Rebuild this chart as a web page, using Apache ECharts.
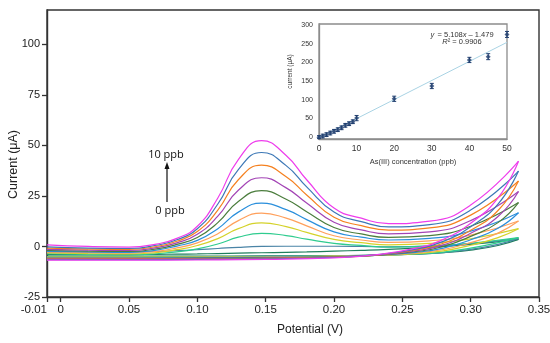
<!DOCTYPE html>
<html>
<head>
<meta charset="utf-8">
<script src="https://cdn.jsdelivr.net/npm/echarts@6/dist/echarts.min.js"></script>
<style>html,body{margin:0;padding:0;background:#fff;}#c{width:550px;height:343px;}</style>
</head>
<body>
<div id="c"></div>
<script>
// ---------- DATA ----------
const concentrations = ['0 ppb','1 ppb','2 ppb','3 ppb','4 ppb','5 ppb','6 ppb','7 ppb','8 ppb','9 ppb','10 ppb'];
// potentials (V) for the lower (forward) branch
const lowerPotentials = [-0.01, 0.05, 0.10, 0.15, 0.20, 0.23, 0.26, 0.28, 0.30, 0.32, 0.335];
// potentials (V) for the upper (stripping) branch
const upperPotentials = [-0.01, 0.02, 0.05, 0.07, 0.085, 0.10, 0.115, 0.13, 0.147, 0.165, 0.18, 0.20, 0.22, 0.24, 0.27, 0.30, 0.335];

const lowerCurrent = [
  [-4.8, -4.8, -4.8, -4.7, -4.5, -4.3, -3.8, -3.1, -1.8, 0.5, 3.5],
  [-5.0, -5.0, -5.0, -4.9, -4.7, -4.4, -3.8, -3.0, -1.4, 1.0, 4.0],
  [-5.1, -5.1, -5.1, -5.0, -4.7, -4.4, -3.7, -2.8, -0.8, 1.9, 4.4],
  [-5.3, -5.3, -5.3, -5.2, -4.8, -4.4, -3.5, -2.2, 0.6, 4.4, 8.8],
  [-5.5, -5.5, -5.4, -5.3, -4.9, -4.4, -3.2, -1.5, 1.9, 6.6, 12.6],
  [-5.7, -5.7, -5.6, -5.4, -5.0, -4.4, -2.9, -0.8, 3.3, 9.0, 16.7],
  [-5.9, -5.9, -5.8, -5.6, -5.1, -4.4, -2.5, 0.0, 5.0, 11.8, 21.7],
  [-6.1, -6.1, -6.0, -5.7, -5.2, -4.3, -2.1, 0.8, 6.5, 14.8, 27.2],
  [-6.3, -6.3, -6.2, -5.9, -5.3, -4.3, -1.7, 1.6, 8.0, 17.8, 32.4],
  [-6.5, -6.5, -6.4, -6.1, -5.4, -4.2, -1.3, 2.5, 9.8, 21.0, 37.3],
  [-6.8, -6.8, -6.7, -6.4, -5.6, -4.2, -0.8, 3.5, 11.5, 24.0, 42.2]
];
const upperCurrent = [
  [-4.0, -4.0, -4.0, -3.9, -3.8, -3.7, -3.5, -3.3, -3.1, -2.9, -2.7, -2.3, -1.9, -1.4, -0.4, 1.0, 3.5],
  [-3.0, -3.0, -2.8, -2.5, -2.1, -1.6, -1.0, -0.4, 0.0, 0.1, 0.1, 0.1, 0.0, -0.2, 0.2, 1.4, 4.0],
  [-3.6, -3.9, -4.1, -3.6, -2.7, -1.2, 1.2, 4.6, 6.5, 5.4, 3.6, 1.5, 0.5, -0.3, 0.2, 1.6, 4.4],
  [-3.2, -3.5, -3.7, -3.0, -1.6, 0.5, 3.9, 8.8, 11.7, 9.8, 7.0, 3.5, 1.9, 0.8, 1.5, 3.8, 8.8],
  [-2.8, -3.1, -3.3, -2.4, -0.7, 1.8, 6.3, 12.8, 16.5, 14.0, 10.2, 5.3, 3.2, 2.0, 2.8, 5.6, 12.6],
  [-2.4, -2.7, -2.9, -1.8, 0.2, 3.0, 8.8, 17.0, 21.4, 18.2, 13.3, 7.2, 4.6, 3.2, 4.0, 7.6, 16.7],
  [-2.0, -2.3, -2.5, -1.2, 1.0, 4.4, 11.8, 22.3, 27.6, 23.4, 17.2, 9.4, 6.2, 4.5, 5.4, 10.0, 21.7],
  [-1.4, -1.8, -2.0, -0.6, 1.8, 6.0, 15.0, 27.8, 34.0, 29.0, 21.5, 12.0, 8.2, 6.2, 7.2, 12.8, 27.2],
  [-0.8, -1.3, -1.5, 0.0, 2.6, 7.4, 18.0, 33.0, 40.2, 34.5, 25.5, 14.5, 10.3, 8.1, 9.2, 15.5, 32.4],
  [-0.2, -0.8, -1.0, 0.6, 3.3, 8.8, 21.0, 38.0, 46.5, 40.0, 29.5, 17.0, 12.3, 9.7, 10.8, 18.0, 37.3],
  [0.8, 0.0, -0.3, 1.2, 4.0, 10.0, 24.0, 43.0, 52.4, 45.0, 33.0, 19.0, 14.0, 11.3, 12.5, 20.5, 42.2]
];

const xTickValues = [-0.01, 0, 0.05, 0.10, 0.15, 0.20, 0.25, 0.30, 0.35];
const yTickValues = [-25, 0, 25, 50, 75, 100];

// inset calibration data
const insetConc = [0, 1, 2, 3, 4, 5, 6, 7, 8, 9, 10, 20, 30, 40, 45, 50];
const insetCurrent = [0, 3, 6.7, 11, 15.6, 20, 25, 31.6, 36, 41.3, 51, 102.7, 137, 206.7, 215.5, 275];
const insetError = [4, 5, 5, 5, 5, 5, 5, 5, 5, 5, 7, 7, 7, 7, 8, 8];
const trendX = [0, 50];
const trendY = [-1.479, 253.921];
const insetYTicks = [0, 50, 100, 150, 200, 250, 300];

// ---------- STYLE ----------
const palette = ['#1e7f5c', '#4a84a6', '#2fcc8f', '#d4d22a', '#ffa05c', '#2a8fdc', '#4b7d3d', '#a344b5', '#f5801f', '#3d78b6', '#ee3cec'];

const chart = echarts.init(document.getElementById('c'), null, {renderer: 'canvas'});
const series = [];
concentrations.forEach((name, i) => {
  series.push({
    name: name, type: 'line', xAxisIndex: 0, yAxisIndex: 0,
    data: lowerPotentials.map((p, j) => [p, lowerCurrent[i][j]]),
    smooth: 0.5, showSymbol: false, symbol: 'none',
    lineStyle: {color: palette[i], width: 1.2}, silent: true
  });
  series.push({
    name: name, type: 'line', xAxisIndex: 0, yAxisIndex: 0,
    data: upperPotentials.map((p, j) => [p, upperCurrent[i][j]]),
    smooth: 0.5, showSymbol: false, symbol: 'none',
    lineStyle: {color: palette[i], width: 1.2}, silent: true
  });
});

// inset
series.push({
  type: 'line', xAxisIndex: 1, yAxisIndex: 1,
  data: trendX.map((x, i) => [x, trendY[i]]),
  showSymbol: false, symbol: 'none',
  lineStyle: {color: '#a9d3e4', width: 1}, silent: true, z: 6
});
series.push({
  type: 'custom', xAxisIndex: 1, yAxisIndex: 1,
  data: insetConc.map((x, i) => [x, insetCurrent[i], insetError[i]]),
  renderItem: function (params, api) {
    const x = api.value(0), y = api.value(1), e = api.value(2);
    const t = api.coord([x, y + e]);
    const b = api.coord([x, y - e]);
    const st = {stroke: '#1f3d6e', lineWidth: 1};
    return {type: 'group', children: [
      {type: 'line', shape: {x1: t[0], y1: t[1], x2: b[0], y2: b[1]}, style: st},
      {type: 'line', shape: {x1: t[0] - 2, y1: t[1], x2: t[0] + 2, y2: t[1]}, style: st},
      {type: 'line', shape: {x1: b[0] - 2, y1: b[1], x2: b[0] + 2, y2: b[1]}, style: st}
    ]};
  },
  clip: false, silent: true, z: 7
});
series.push({
  type: 'scatter', xAxisIndex: 1, yAxisIndex: 1,
  data: insetConc.map((x, i) => [x, insetCurrent[i]]),
  symbol: 'diamond', symbolSize: 5,
  itemStyle: {color: '#1f3d6e'}, silent: true, z: 8
});

const font = 'Liberation Sans, Arial, sans-serif';
const option = {
  animation: false,
  backgroundColor: '#ffffff',
  grid: [
    {left: 47, right: 11, top: 10, bottom: 46, show: true, borderColor: '#333', borderWidth: 1.4,
      backgroundColor: 'transparent', containLabel: false, outerBoundsMode: 'none'},
    {left: 319, right: 43, top: 24, bottom: 204, show: true, borderColor: '#8c8c8c', borderWidth: 1.3,
      backgroundColor: 'transparent', containLabel: false, outerBoundsMode: 'none'}
  ],
  xAxis: [
    {
      type: 'value', gridIndex: 0, min: -0.01, max: 0.35,
      name: 'Potential (V)', nameLocation: 'middle', nameGap: 27, nameMoveOverlap: false,
      nameTextStyle: {fontFamily: font, fontSize: 12, color: '#222', padding: [0, 0, 0, 34]},
      axisLine: {show: true, onZero: false, lineStyle: {color: '#333', width: 1.4}},
      axisTick: {show: true, length: 5, customValues: xTickValues, lineStyle: {color: '#333', width: 1.3}},
      axisLabel: {customValues: xTickValues, showMinLabel: true, showMaxLabel: true, hideOverlap: false,
        alignMinLabel: 'right',
        fontFamily: font, fontSize: 11.5, color: '#222', margin: 7,
        formatter: v => (Math.abs(v) < 1e-9 ? '0' : v.toFixed(2))},
      splitLine: {show: false}
    },
    {
      type: 'value', gridIndex: 1, min: 0, max: 50, interval: 10,
      name: 'As(III) concentration (ppb)', nameLocation: 'middle', nameGap: 19, nameMoveOverlap: false,
      nameTextStyle: {fontFamily: font, fontSize: 7.5, color: '#333'},
      axisLine: {show: true, onZero: false, lineStyle: {color: '#8c8c8c', width: 1.3}},
      axisTick: {show: false},
      axisLabel: {fontFamily: font, fontSize: 8.5, color: '#333', margin: 5, showMinLabel: true},
      splitLine: {show: false}
    }
  ],
  yAxis: [
    {
      type: 'value', gridIndex: 0, min: -25, max: 117,
      name: 'Current (μA)', nameLocation: 'middle', nameGap: 27, nameMoveOverlap: false,
      nameTextStyle: {fontFamily: font, fontSize: 12.5, color: '#222', padding: [0, 22, 0, 0]},
      axisLine: {show: true, onZero: false, lineStyle: {color: '#333', width: 1.4}},
      axisTick: {show: true, length: 5, customValues: yTickValues, lineStyle: {color: '#333', width: 1.3}},
      axisLabel: {customValues: yTickValues, showMinLabel: true, fontFamily: font, fontSize: 11, color: '#222', margin: 7},
      splitLine: {show: false}
    },
    {
      type: 'value', gridIndex: 1, min: -5, max: 303,
      name: 'current (μA)', nameLocation: 'middle', nameGap: 25, nameMoveOverlap: false,
      nameTextStyle: {fontFamily: font, fontSize: 6.5, color: '#333', padding: [0, 0, 0, 20]},
      axisLine: {show: true, onZero: false, lineStyle: {color: '#8c8c8c', width: 1.3}},
      axisTick: {show: false, customValues: insetYTicks},
      axisLabel: {customValues: insetYTicks, showMinLabel: true, fontFamily: font, fontSize: 7, color: '#333', margin: 6},
      splitLine: {show: false}
    }
  ],
  graphic: [
    {type: 'text', x: 166, y: 155, z: 10,
      style: {text: '10 ppb', font: '11px "Open Sans", sans-serif', fill: '#111', align: 'center', verticalAlign: 'middle'}},
    {type: 'text', x: 170, y: 211, z: 10,
      style: {text: '0 ppb', font: '11px "Open Sans", sans-serif', fill: '#111', align: 'center', verticalAlign: 'middle'}},
    {type: 'line', z: 10, shape: {x1: 167, y1: 202, x2: 167, y2: 168}, style: {stroke: '#111', lineWidth: 1.2}},
    {type: 'polygon', z: 10, shape: {points: [[164.5, 169], [169.5, 169], [167, 162]]}, style: {fill: '#111'}},
    {type: 'text', x: 462, y: 35, z: 10,
      style: {rich: {i: {fontStyle: 'italic', fontSize: 7.5, fontFamily: font, fill: '#333'}, n: {fontSize: 7.5, fontFamily: font, fill: '#333'}},
        text: '{i|y} {n|= 5.108}{i|x}{n| – 1.479}', align: 'center', verticalAlign: 'middle'}},
    {type: 'text', x: 462, y: 42, z: 10,
      style: {rich: {i: {fontStyle: 'italic', fontSize: 7.5, fontFamily: font, fill: '#333'}, n: {fontSize: 7.5, fontFamily: font, fill: '#333'}},
        text: '{i|R}{n|² = 0.9906}', align: 'center', verticalAlign: 'middle'}}
  ],
  series: series
};
chart.setOption(option);
</script>
</body>
</html>
